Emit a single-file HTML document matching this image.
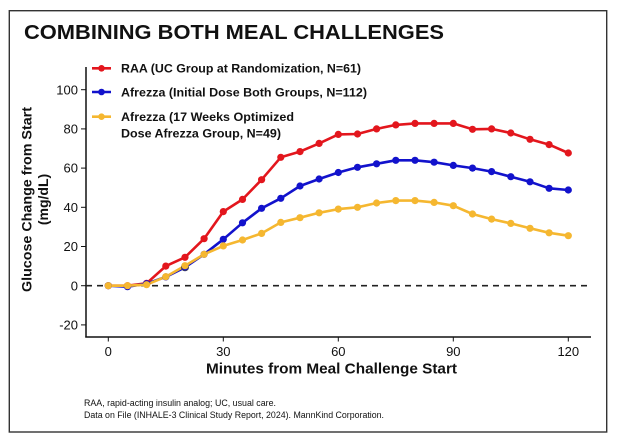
<!DOCTYPE html>
<html><head><meta charset="utf-8"><style>
html,body{margin:0;padding:0;background:#fff;}
svg{display:block;}
text{font-family:"Liberation Sans",Arial,sans-serif;fill:#111;}
</style></head><body>
<svg width="618" height="442" viewBox="0 0 618 442" xmlns="http://www.w3.org/2000/svg">
<rect x="0" y="0" width="618" height="442" fill="#fff"/>
<rect x="9.3" y="10.7" width="597.4" height="421.3" fill="none" stroke="#333" stroke-width="1.4"/>
<text x="24" y="39" font-size="20" font-weight="bold" textLength="420" lengthAdjust="spacingAndGlyphs">COMBINING BOTH MEAL CHALLENGES</text>

<!-- axes -->
<line x1="86" y1="67" x2="86" y2="337.5" stroke="#111" stroke-width="1.5"/>
<line x1="85.3" y1="337" x2="591" y2="337" stroke="#111" stroke-width="1.5"/>
<!-- y ticks -->
<g stroke="#111" stroke-width="1">
<line x1="81" y1="89.7" x2="86" y2="89.7"/>
<line x1="81" y1="128.9" x2="86" y2="128.9"/>
<line x1="81" y1="168.1" x2="86" y2="168.1"/>
<line x1="81" y1="207.3" x2="86" y2="207.3"/>
<line x1="81" y1="246.5" x2="86" y2="246.5"/>
<line x1="81" y1="285.7" x2="86" y2="285.7"/>
<line x1="81" y1="324.9" x2="86" y2="324.9"/>
<line x1="108.3" y1="337" x2="108.3" y2="341.5"/>
<line x1="223.3" y1="337" x2="223.3" y2="341.5"/>
<line x1="338.3" y1="337" x2="338.3" y2="341.5"/>
<line x1="453.3" y1="337" x2="453.3" y2="341.5"/>
<line x1="568.3" y1="337" x2="568.3" y2="341.5"/>
</g>
<g font-size="13" text-anchor="end" fill="#222">
<text x="78" y="94.3">100</text>
<text x="78" y="133.5">80</text>
<text x="78" y="172.7">60</text>
<text x="78" y="211.9">40</text>
<text x="78" y="251.1">20</text>
<text x="78" y="290.3">0</text>
<text x="78" y="329.5">-20</text>
</g>
<g font-size="13" text-anchor="middle" fill="#222">
<text x="108.3" y="356">0</text>
<text x="223.3" y="356">30</text>
<text x="338.3" y="356">60</text>
<text x="453.3" y="356">90</text>
<text x="568.3" y="356">120</text>
</g>
<text x="331.5" y="373.5" font-size="15" font-weight="bold" text-anchor="middle" textLength="251" lengthAdjust="spacingAndGlyphs">Minutes from Meal Challenge Start</text>
<text transform="translate(31.5,199.5) rotate(-90)" font-size="14" font-weight="bold" text-anchor="middle" textLength="185" lengthAdjust="spacingAndGlyphs">Glucose Change from Start</text>
<text transform="translate(48,199.5) rotate(-90)" font-size="14" font-weight="bold" text-anchor="middle">(mg/dL)</text>

<!-- zero line -->
<line x1="86" y1="285.7" x2="592" y2="285.7" stroke="#222" stroke-width="1.6" stroke-dasharray="6,5"/>

<!-- series: x = 108.3 + t*3.833, y = 285.7 - v*1.96 -->
<g fill="none" stroke-width="2.6" stroke-linejoin="round">
<polyline stroke="#e3161d" points="108.3,285.7 127.5,285.7 146.6,283.3 165.8,266.1 185,257.3 204.1,238.7 223.3,211.6 242.5,199.4 261.6,179.7 280.8,157.3 300,151.6 319.1,143.4 338.3,134.4 357.5,134 376.6,128.9 395.8,124.9 415,123.4 434.1,123.4 453.3,123.4 472.5,129.3 491.6,128.9 510.8,133 530,139.3 549.1,144.6 568.3,153"/>
<polyline stroke="#1212cc" points="108.3,285.7 127.5,286.7 146.6,283.7 165.8,276.9 185,267.3 204.1,254.3 223.3,239.3 242.5,222.8 261.6,208.3 280.8,198.3 300,186 319.1,179 338.3,172.5 357.5,167.3 376.6,163.8 395.8,160.3 415,160.3 434.1,162.2 453.3,165.4 472.5,168.1 491.6,171.6 510.8,176.7 530,181.8 549.1,188.3 568.3,190"/>
<polyline stroke="#f5b730" points="108.3,285.7 127.5,285.7 146.6,284.7 165.8,276.7 185,265.7 204.1,254.3 223.3,245.9 242.5,240 261.6,233.4 280.8,222.4 300,217.7 319.1,212.8 338.3,209.1 357.5,207.3 376.6,203 395.8,200.6 415,200.6 434.1,202.4 453.3,205.7 472.5,214 491.6,219.1 510.8,223.4 530,228.3 549.1,232.8 568.3,235.7"/>
</g>
<g fill="#e3161d">
<circle cx="108.3" cy="285.7" r="3.6"/><circle cx="127.5" cy="285.7" r="3.6"/><circle cx="146.6" cy="283.3" r="3.6"/><circle cx="165.8" cy="266.1" r="3.6"/><circle cx="185" cy="257.3" r="3.6"/><circle cx="204.1" cy="238.7" r="3.6"/><circle cx="223.3" cy="211.6" r="3.6"/><circle cx="242.5" cy="199.4" r="3.6"/><circle cx="261.6" cy="179.7" r="3.6"/><circle cx="280.8" cy="157.3" r="3.6"/><circle cx="300" cy="151.6" r="3.6"/><circle cx="319.1" cy="143.4" r="3.6"/><circle cx="338.3" cy="134.4" r="3.6"/><circle cx="357.5" cy="134" r="3.6"/><circle cx="376.6" cy="128.9" r="3.6"/><circle cx="395.8" cy="124.9" r="3.6"/><circle cx="415" cy="123.4" r="3.6"/><circle cx="434.1" cy="123.4" r="3.6"/><circle cx="453.3" cy="123.4" r="3.6"/><circle cx="472.5" cy="129.3" r="3.6"/><circle cx="491.6" cy="128.9" r="3.6"/><circle cx="510.8" cy="133" r="3.6"/><circle cx="530" cy="139.3" r="3.6"/><circle cx="549.1" cy="144.6" r="3.6"/><circle cx="568.3" cy="153" r="3.6"/>
</g>
<g fill="#1212cc">
<circle cx="108.3" cy="285.7" r="3.6"/><circle cx="127.5" cy="286.7" r="3.6"/><circle cx="146.6" cy="283.7" r="3.6"/><circle cx="165.8" cy="276.9" r="3.6"/><circle cx="185" cy="267.3" r="3.6" stroke="#444" stroke-width="0.8"/><circle cx="204.1" cy="254.3" r="3.6"/><circle cx="223.3" cy="239.3" r="3.6"/><circle cx="242.5" cy="222.8" r="3.6"/><circle cx="261.6" cy="208.3" r="3.6"/><circle cx="280.8" cy="198.3" r="3.6"/><circle cx="300" cy="186" r="3.6"/><circle cx="319.1" cy="179" r="3.6"/><circle cx="338.3" cy="172.5" r="3.6"/><circle cx="357.5" cy="167.3" r="3.6"/><circle cx="376.6" cy="163.8" r="3.6"/><circle cx="395.8" cy="160.3" r="3.6"/><circle cx="415" cy="160.3" r="3.6"/><circle cx="434.1" cy="162.2" r="3.6"/><circle cx="453.3" cy="165.4" r="3.6"/><circle cx="472.5" cy="168.1" r="3.6"/><circle cx="491.6" cy="171.6" r="3.6"/><circle cx="510.8" cy="176.7" r="3.6"/><circle cx="530" cy="181.8" r="3.6"/><circle cx="549.1" cy="188.3" r="3.6"/><circle cx="568.3" cy="190" r="3.6"/>
</g>
<g fill="#f5b730">
<circle cx="108.3" cy="285.7" r="3.6"/><circle cx="127.5" cy="285.7" r="3.6"/><circle cx="146.6" cy="284.7" r="3.6"/><circle cx="165.8" cy="276.7" r="3.6"/><circle cx="185" cy="265.7" r="3.6"/><circle cx="204.1" cy="254.3" r="3.6"/><circle cx="223.3" cy="245.9" r="3.6"/><circle cx="242.5" cy="240" r="3.6"/><circle cx="261.6" cy="233.4" r="3.6"/><circle cx="280.8" cy="222.4" r="3.6"/><circle cx="300" cy="217.7" r="3.6"/><circle cx="319.1" cy="212.8" r="3.6"/><circle cx="338.3" cy="209.1" r="3.6"/><circle cx="357.5" cy="207.3" r="3.6"/><circle cx="376.6" cy="203" r="3.6"/><circle cx="395.8" cy="200.6" r="3.6"/><circle cx="415" cy="200.6" r="3.6"/><circle cx="434.1" cy="202.4" r="3.6"/><circle cx="453.3" cy="205.7" r="3.6"/><circle cx="472.5" cy="214" r="3.6"/><circle cx="491.6" cy="219.1" r="3.6"/><circle cx="510.8" cy="223.4" r="3.6"/><circle cx="530" cy="228.3" r="3.6"/><circle cx="549.1" cy="232.8" r="3.6"/><circle cx="568.3" cy="235.7" r="3.6"/>
</g>

<!-- legend -->
<g stroke-width="2.6">
<line x1="92" y1="68.3" x2="111" y2="68.3" stroke="#e3161d"/>
<line x1="92" y1="92" x2="111" y2="92" stroke="#1212cc"/>
<line x1="92" y1="116.7" x2="111" y2="116.7" stroke="#f5b730"/>
</g>
<circle cx="101.5" cy="68.3" r="3.3" fill="#e3161d"/>
<circle cx="101.5" cy="92" r="3.3" fill="#1212cc"/>
<circle cx="101.5" cy="116.7" r="3.3" fill="#f5b730"/>
<g font-size="12" font-weight="bold">
<text x="121" y="72.6" textLength="240" lengthAdjust="spacingAndGlyphs">RAA (UC Group at Randomization, N=61)</text>
<text x="121" y="96.3" textLength="246" lengthAdjust="spacingAndGlyphs">Afrezza (Initial Dose Both Groups, N=112)</text>
<text x="121" y="121" textLength="173" lengthAdjust="spacingAndGlyphs">Afrezza (17 Weeks Optimized</text>
<text x="121" y="137.5" textLength="160" lengthAdjust="spacingAndGlyphs">Dose Afrezza Group, N=49)</text>
</g>

<!-- footnotes -->
<text x="84" y="406" font-size="9" fill="#222" textLength="192" lengthAdjust="spacingAndGlyphs">RAA, rapid-acting insulin analog; UC, usual care.</text>
<text x="84" y="418" font-size="9" fill="#222" textLength="300" lengthAdjust="spacingAndGlyphs">Data on File (INHALE-3 Clinical Study Report, 2024). MannKind Corporation.</text>
</svg>
</body></html>
